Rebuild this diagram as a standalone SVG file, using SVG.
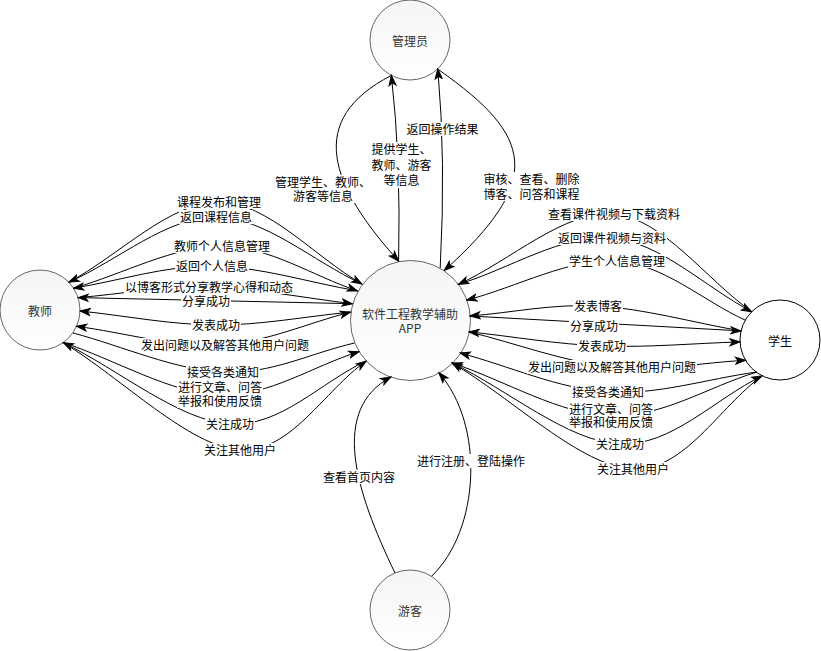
<svg xmlns="http://www.w3.org/2000/svg" width="821" height="651" viewBox="0 0 821 651">
<style>
.nd{stroke:#666666;stroke-width:1;fill:url(#g)}
.nt{font-family:"Noto Sans CJK SC","Noto Sans",sans-serif;font-size:12px;fill:#333333;text-anchor:middle}
.e{fill:none;stroke:#000;stroke-width:1}
.a{marker-end:url(#arr)}
.s{marker-start:url(#arr)}
.bg{fill:#ffffff}
.l{font-family:"Noto Sans CJK SC","Noto Sans",sans-serif;font-size:12px;fill:#000;text-anchor:middle}
</style>
<defs>
<linearGradient id="g" x1="0" y1="0" x2="0" y2="1">
<stop offset="0" stop-color="#f5f5f5"/>
<stop offset="1" stop-color="#ffffff"/>
</linearGradient>
<marker id="arr" markerUnits="userSpaceOnUse" markerWidth="12" markerHeight="10" refX="10" refY="3.5" orient="auto-start-reverse" viewBox="-1 -1 12 10">
<path d="M0,0 L10,3.5 L0,7 L2.5,3.5 Z" fill="#000" stroke="#000" stroke-width="1"/>
</marker>
</defs>
<rect width="821" height="651" fill="#ffffff"/>

<g id="node-admin"><circle class="nd" cx="410" cy="40" r="40"/><text class="nt" x="410" y="45.5">管理员</text></g>
<g id="node-app"><circle class="nd" cx="410.5" cy="320.5" r="60"/><text class="nt" x="410" y="318.5">软件工程教学辅助<tspan x="410" dy="14">APP</tspan></text></g>
<g id="node-teacher"><circle class="nd" cx="40" cy="310" r="40"/><text class="nt" x="40" y="315.5">教师</text></g>
<g id="node-student"><circle cx="780" cy="340" r="40" fill="#ffffff" stroke="#000" stroke-width="1"/><text class="nt" x="780" y="345.5" style="fill:#000">学生</text></g>
<g id="node-visitor"><circle class="nd" cx="410" cy="610" r="40"/><text class="nt" x="410" y="615.5">游客</text></g>

<g id="connectors">
<path class="e a" d="M391.4,75.4 C305,120 330,185 398.6,261.1"/>
<path class="e a" d="M398.6,261.1 Q401,160 391.4,75.4"/>
<path class="e a" d="M440.2,268.1 Q446,160 437.8,68.8"/>
<path class="e a" d="M439,70 C533,136 545,180 444.2,270.6"/>

<path class="e a" d="M68.8,282.2 C118.9,255.5 170.1,201.7 219,202 C267.9,202.3 314.3,256.7 362,284"/>
<path class="e a" d="M362,284 C313.3,261.7 264.9,217.3 216,217 C167.1,216.7 117.9,260.5 68.8,282.2"/>
<path class="e a" d="M73.5,288.2 C123,274.1 174.7,245.6 222,246 C269.4,246.5 312.4,275.9 357.6,290.9"/>
<path class="e a" d="M357.6,290.9 C309.1,282.6 259.4,266.5 212,266 C164.7,265.6 119.7,280.8 73.5,288.2"/>
<path class="e a" d="M78,297.6 C121.7,294.1 163.3,286 209,287 C254.7,288 304.5,298.1 352.3,303.7"/>
<path class="e a" d="M352.3,303.7 L78,297.6"/>
<path class="e a" d="M350.5,312.1 C305.7,316.4 261.1,325.2 216,325 C170.9,324.8 125.3,315.7 80,311"/>
<path class="e a s" d="M76.5,326.3 C124.3,332.6 174.3,347.4 220,345 C265.7,342.6 307,323.1 350.5,312.1"/>
<path class="e" d="M354.6,343 C310.7,353 270,374.7 223,372 C176,370.3 122.9,346.3 72.8,332.9"/>
<path class="e a" d="M63.2,342.6 C115.5,359.7 170.7,393.5 220,395 C269.3,396.5 312.7,365.8 359,351.7"/>
<path class="e a" d="M366.2,361 C320.8,382 280.5,427.1 230,424 C179.5,420.9 118.8,369.7 63.2,342.6"/>
<path class="e a" d="M63.2,342.6 C122.1,378.4 189.5,446.9 240,450 C290.5,453.1 324.1,390.7 366.2,361"/>

<path class="e a" d="M751.7,311.7 C705.8,279.1 662.9,218.6 614,214 C565.1,209.5 510.2,260.9 458.3,284.4"/>
<path class="e a" d="M458.3,284.4 C509.5,268.9 563.1,233.5 612,238 C660.9,242.6 705.1,287.1 751.7,311.7"/>
<path class="e a" d="M745.3,320.2 C702.5,300.5 663.5,264.3 617,261 C570.6,257.7 516.7,287.1 466.6,300.2"/>
<path class="e a" d="M741,330.9 C693.3,322.6 643.2,308.5 598,306 C552.8,303.5 512.6,312.7 469.9,316"/>
<path class="e a" d="M469.9,316 L741,330.9"/>
<path class="e a s" d="M468.8,331.8 C513.2,336.5 556.8,344.3 602,346 C647.2,347.7 694,343.3 740,341.9"/>
<path class="e a" d="M468.8,331.8 C516.5,343.5 565.9,362.3 612,367 C658.1,371.8 701.1,362.5 745.6,360.3"/>
<path class="e a" d="M757,372 C707.3,378.7 657.5,395.2 608,392 C558.5,388.8 509.3,366 460,353"/>
<path class="e a" d="M757,372 C708.3,386.7 661.8,417.5 611,416 C560.2,414.5 505,380.6 452,362.9"/>
<path class="e a" d="M452,362.9 C508,389.9 568.3,441.8 620,444 C671.7,446.2 714.7,398.7 762,376"/>
<path class="e a" d="M762,376 C719,407 684.7,471.2 633,469 C581.3,466.8 512.3,398.3 452,362.9"/>

<path class="e a" d="M395,573 C355,490 330,410 391,376.9"/>
<path class="e a" d="M431.5,576.3 C480,530 485,425 438.8,372.7"/>
</g>

<g id="edge-labels">
<rect class="bg" x="274" y="175" width="98" height="28"/>
<text class="l" x="323" y="187">管理学生、教师、<tspan x="323" dy="13.5">游客等信息</tspan></text>
<rect class="bg" x="370.5" y="142" width="62" height="46"/>
<text class="l" x="401.5" y="154">提供学生、<tspan x="401.5" dy="15.5">教师、游客</tspan><tspan x="401.5" dy="15.5">等信息</tspan></text>
<rect class="bg" x="405.5" y="122" width="74" height="14"/>
<text class="l" x="442.5" y="133.5">返回操作结果</text>
<rect class="bg" x="482.5" y="172" width="98" height="29"/>
<text class="l" x="531.5" y="183.5">审核、查看、删除<tspan x="531.5" dy="15">博客、问答和课程</tspan></text>

<rect class="bg" x="176" y="195" width="86" height="14"/><text class="l" x="219" y="206.5">课程发布和管理</text>
<rect class="bg" x="179" y="210" width="74" height="14"/><text class="l" x="216" y="221.5">返回课程信息</text>
<rect class="bg" x="173" y="239" width="98" height="14"/><text class="l" x="222" y="250.5">教师个人信息管理</text>
<rect class="bg" x="175" y="259" width="74" height="14"/><text class="l" x="212" y="270.5">返回个人信息</text>
<rect class="bg" x="124" y="280" width="170" height="14"/><text class="l" x="209" y="291.5">以博客形式分享教学心得和动态</text>
<rect class="bg" x="181" y="294" width="50" height="14"/><text class="l" x="206" y="305.5">分享成功</text>
<rect class="bg" x="191" y="318" width="50" height="14"/><text class="l" x="216" y="329.5">发表成功</text>
<rect class="bg" x="140" y="338" width="170" height="14"/><text class="l" x="225" y="349.5">发出问题以及解答其他用户问题</text>
<rect class="bg" x="186" y="365" width="74" height="14"/><text class="l" x="223" y="376.5">接受各类通知</text>
<rect class="bg" x="177" y="380" width="86" height="28"/><text class="l" x="220" y="392">进行文章、问答<tspan x="220" dy="13.5">举报和使用反馈</tspan></text>
<rect class="bg" x="205" y="417" width="50" height="14"/><text class="l" x="230" y="428.5">关注成功</text>
<rect class="bg" x="203" y="443" width="74" height="14"/><text class="l" x="240" y="454.5">关注其他用户</text>

<rect class="bg" x="547" y="207" width="134" height="14"/><text class="l" x="614" y="218.5">查看课件视频与下载资料</text>
<rect class="bg" x="557" y="231" width="110" height="14"/><text class="l" x="612" y="242.5">返回课件视频与资料</text>
<rect class="bg" x="568" y="254" width="98" height="14"/><text class="l" x="617" y="265.5">学生个人信息管理</text>
<rect class="bg" x="573" y="299" width="50" height="14"/><text class="l" x="598" y="310.5">发表博客</text>
<rect class="bg" x="569" y="319" width="50" height="14"/><text class="l" x="594" y="330.5">分享成功</text>
<rect class="bg" x="577" y="339" width="50" height="14"/><text class="l" x="602" y="350.5">发表成功</text>
<rect class="bg" x="527" y="360" width="170" height="14"/><text class="l" x="612" y="371.5">发出问题以及解答其他用户问题</text>
<rect class="bg" x="571" y="385" width="74" height="14"/><text class="l" x="608" y="396.5">接受各类通知</text>
<rect class="bg" x="568" y="402" width="86" height="27"/><text class="l" x="611" y="413.5">进行文章、问答<tspan x="611" dy="13">举报和使用反馈</tspan></text>
<rect class="bg" x="595" y="437" width="50" height="14"/><text class="l" x="620" y="448.5">关注成功</text>
<rect class="bg" x="596" y="462" width="74" height="14"/><text class="l" x="633" y="473.5">关注其他用户</text>

<rect class="bg" x="322" y="470" width="74" height="14"/><text class="l" x="359" y="481.5">查看首页内容</text>
<rect class="bg" x="416" y="454" width="110" height="14"/><text class="l" x="471" y="465.5">进行注册、登陆操作</text>
</g>
</svg>
